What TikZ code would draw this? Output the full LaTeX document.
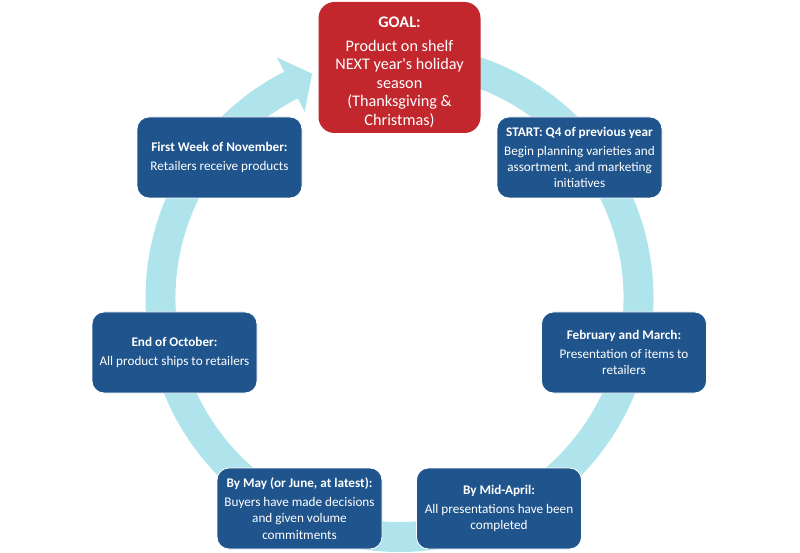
\documentclass[tikz,border=0pt]{standalone}
\usepackage{fontspec}
\setmainfont{Carlito}
\begin{document}
\begin{tikzpicture}[x=1pt,y=1pt,
	mocbox/.style={draw=white, line width=0.8pt, fill=xanhdam, rounded corners=12pt,
		minimum width=165pt, minimum height=81pt, text=white, align=center,
		font=\fontsize{13.2}{16.2}\selectfont},
	goalbox/.style={mocbox, fill=dodich, draw=none, rounded corners=16pt,
		minimum width=162pt, minimum height=131pt},
	goaltext/.style={text=white, align=center, font=\fontsize{16.2}{18.4}\selectfont}]
	\definecolor{xanhdam}{RGB}{31,84,140}
	\definecolor{dodich}{RGB}{193,39,45}
	\definecolor{vong}{RGB}{176,228,236}
	\useasboundingbox (0,0) rectangle (800,552);
	% vong mui ten
	\begin{scope}[shift={(399.5,254)}]
		\fill[vong] (95:254) arc[start angle=95, end angle=-243, radius=254]
			-- (-243:270) -- (-87.3,224.3) -- (-243:209) -- (-243:224)
			arc[start angle=-243, end angle=95, radius=224] -- cycle;
	\end{scope}
	\node[goalbox] (goal) at (399.5,484.5) {};
	\node[goaltext] (goaltxt) at ([yshift=-4.5pt]goal.center) {\textbf{GOAL:}\\[6pt]Product on shelf\\NEXT year\textquotesingle s holiday\\season\\(Thanksgiving \&\\Christmas)};
	\node[mocbox] (start) at (579.5,394.5) {\textbf{START: Q4 of previous year}\\[3pt]Begin planning varieties and\\assortment, and marketing\\initiatives};
	\node[mocbox] (feb) at (624,199.5) {\textbf{February and March:}\\[3pt]Presentation of items to\\retailers};
	\node[mocbox] (april) at (499,43.5) {\textbf{By Mid-April:}\\[3pt]All presentations have been\\completed};
	\node[mocbox] (may) at (299.5,43.5) {\textbf{By May (or June, at latest):}\\[3pt]Buyers have made decisions\\and given volume\\commitments};
	\node[mocbox] (oct) at (174.5,199.5) {\textbf{End of October:}\\[3pt]All product ships to retailers};
	\node[mocbox] (nov) at (219.5,394.5) {\textbf{First Week of November:}\\[3pt]Retailers receive products};
\end{tikzpicture}
\end{document}
